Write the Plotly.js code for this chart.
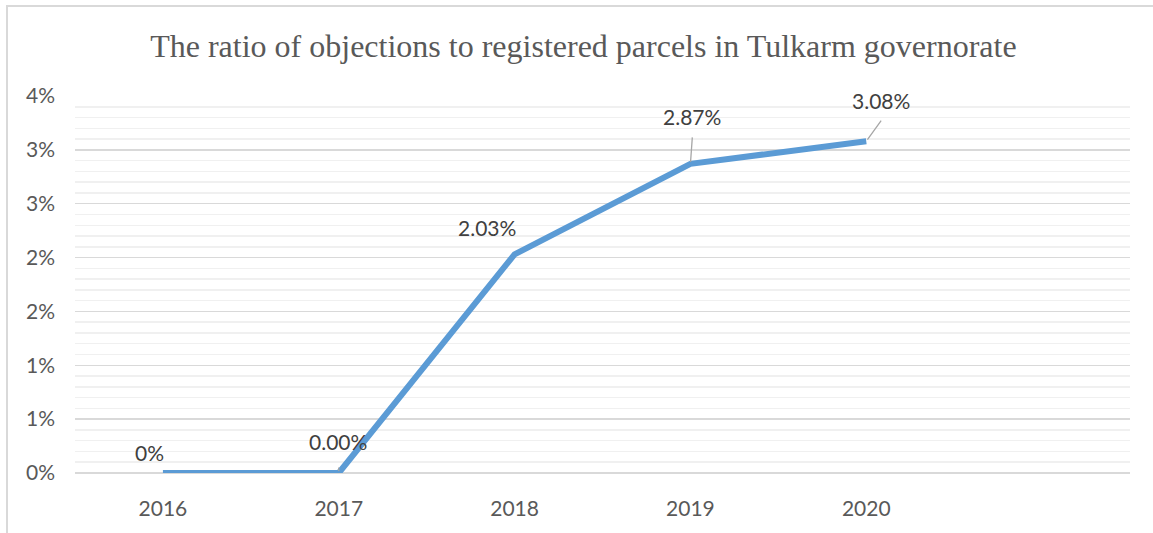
<!DOCTYPE html>
<html>
<head>
<meta charset="utf-8">
<script src="https://cdn.plot.ly/plotly-3.0.1.min.js"></script>
<style>
  html, body { margin: 0; padding: 0; background: #ffffff; overflow: hidden; }
  #frame { position: absolute; left: 6px; top: 5px; width: 1200px; height: 600px;
           border-left: 2px solid #d9d9d9; border-top: 2px solid #d9d9d9; }
  #chart { position: absolute; left: 0; top: 0; width: 1153px; height: 533px; }
</style>
</head>
<body>
<div id="frame"></div>
<div id="chart"></div>
<script>
// ---- data ----
const years = ['2016', '2017', '2018', '2019', '2020'];
const ratios = [0, 0, 0.0203, 0.0287, 0.0308];
const labels = ['0%', '0.00%', '2.03%', '2.87%', '3.08%'];
const yTickVals = [0, 0.005, 0.01, 0.015, 0.02, 0.025, 0.03, 0.035];
const yTickText = ['0%', '1%', '1%', '2%', '2%', '3%', '3%', '4%'];

const xIdx = years.map((_, i) => i);

// label placement (pixel offsets) and leader lines
const labelShift = [[-13, 21], [-1, 32], [-28, 27], [2, 47], [15, 41]];
const leaders = [null, [0, -7], null, [2, -28], [16, -22]];

const annotations = [];
years.forEach((y, i) => {
  annotations.push({
    x: i, y: ratios[i], xref: 'x', yref: 'y',
    text: labels[i], showarrow: false,
    xshift: labelShift[i][0], yshift: labelShift[i][1],
    font: { family: 'Lato, "Open Sans", sans-serif', size: 21, color: '#404040' }
  });
  if (leaders[i]) {
    annotations.push({
      x: i, y: ratios[i], xref: 'x', yref: 'y',
      text: '', showarrow: true, arrowhead: 0, arrowwidth: 1.3,
      arrowcolor: '#a6a6a6', ax: leaders[i][0], ay: leaders[i][1], standoff: 2
    });
  }
});

const trace = {
  x: xIdx, y: ratios, type: 'scatter', mode: 'lines',
  line: { color: '#5B9BD5', width: 6, shape: 'linear' },
  hoverinfo: 'skip', cliponaxis: false
};

const tickFont = { family: 'Lato, "Open Sans", sans-serif', size: 21, color: '#595959' };

const layout = {
  width: 1153, height: 533,
  paper_bgcolor: 'rgba(0,0,0,0)', plot_bgcolor: 'rgba(0,0,0,0)',
  margin: { l: 75, r: 23, t: 96, b: 60 },
  showlegend: false,
  title: {
    text: 'The ratio of objections to registered parcels in Tulkarm governorate',
    font: { family: '"Liberation Serif", "Times New Roman", serif', size: 32, color: '#595959' },
    x: 0.506, xanchor: 'center', y: 0.915, yanchor: 'middle'
  },
  xaxis: {
    range: [-0.5, 5.5], tickmode: 'array', tickvals: xIdx, ticktext: years,
    showgrid: false, zeroline: false, showline: false, ticks: '',
    ticklabelstandoff: 21,
    tickfont: tickFont,
    fixedrange: true
  },
  yaxis: {
    range: [0, 0.035], tickmode: 'array', tickvals: yTickVals, ticktext: yTickText,
    showgrid: true, gridcolor: '#d9d9d9', gridwidth: 1.5,
    zeroline: true, zerolinecolor: '#d9d9d9', zerolinewidth: 1.5,
    showline: false, ticks: '', ticklabelstandoff: 19,
    tickfont: tickFont,
    minor: { tickmode: 'linear', tick0: 0, dtick: 0.001, showgrid: true,
             gridcolor: '#f0f0f0', gridwidth: 1.5, ticks: '' },
    fixedrange: true
  },
  annotations: annotations
};

Plotly.newPlot('chart', [trace], layout, { staticPlot: true, displayModeBar: false });
</script>
</body>
</html>
